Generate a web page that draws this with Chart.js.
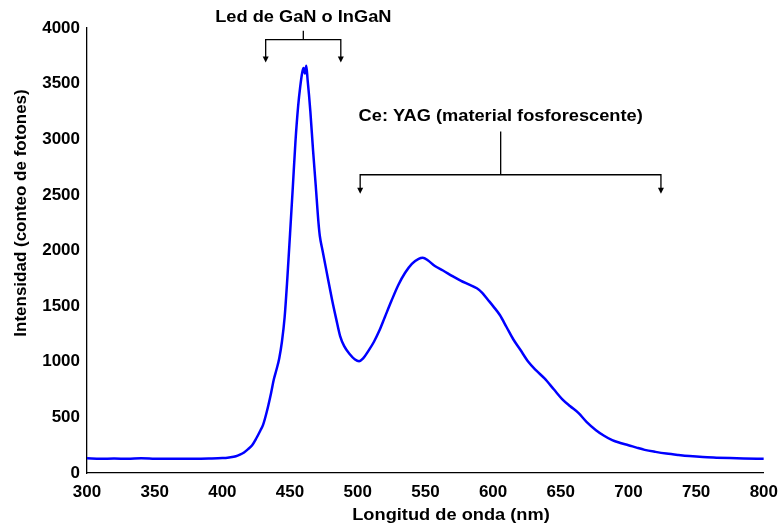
<!DOCTYPE html>
<html>
<head>
<meta charset="utf-8">
<script src="https://cdn.jsdelivr.net/npm/chart.js@4"></script>
<style>
  html, body { margin: 0; padding: 0; background: #fff; }
  #wrap { width: 782px; height: 529px; }
</style>
</head>
<body>
<div id="wrap"><canvas id="myChart" width="782" height="529"></canvas></div>
<script>
// longitud de onda (nm) y cuentas
var wavelengths = [300,310,320,330,340,350,360,370,380,390,400,405,410,413,416,419,422,425,428,430,
  433,436,438,440,442,444,446,448,450,452,454,456,457.5,459,460,461,462,463,464,465,467,469,471,472,474,477,
  481,484,487,490,494,498,501,504,508,512,516,520,525,530,535,540,545,548,552,557,563,570,576,582,588,592,
  596,600,605,610,615,620,626,632,638,645,651,657,663,669,676,682,688,694,700,706,712,720,728,737,745,755,
  765,775,785,800];
var counts = [132,128,130,127,133,129,127,129,128,130,134,140,150,165,185,215,250,310,380,430,
  560,720,840,930,1030,1180,1400,1750,2150,2560,2980,3300,3470,3600,3640,3590,3660,3530,3400,3250,2900,2580,2250,2130,2000,1810,
  1560,1390,1230,1140,1070,1020,1005,1030,1100,1180,1280,1400,1550,1690,1800,1880,1925,1935,1910,1860,1820,1770,1730,1695,1660,1620,
  1560,1500,1420,1310,1200,1110,1000,920,850,750,665,600,540,460,385,335,295,270,250,228,208,190,175,162,152,143,
  138,134,131,128];
var xTicks = [300,350,400,450,500,550,600,650,700,750,800];
var yTicks = [0,500,1000,1500,2000,2500,3000,3500,4000];

var points = wavelengths.map(function (w, i) { return {x: w, y: counts[i]}; });

var fam = '"Liberation Sans", Arial, sans-serif';

// corchetes con flechas (en unidades del grafico)
var brackets = [
  {label: 'Led de GaN o InGaN', x1: 432, x2: 487.5, xm: 459.8, yBar: 3895, yTip: 3690, yStem: 3975, yText: 4090},
  {label: 'Ce: YAG (material fosforescente)', x1: 501.8, x2: 724, xm: 605.6, yBar: 2681, yTip: 2510, yStem: 3070, yText: 3205}
];

function stretchedText(c, txt, x, y, sx) {
  c.save();
  c.translate(x, y);
  c.scale(sx, 1);
  c.fillText(txt, 0, 0);
  c.restore();
}

var bracketPlugin = {
  id: 'brackets',
  afterDraw: function (chart) {
    var c = chart.ctx;
    var xs = chart.scales.x, ys = chart.scales.y;
    c.save();
    c.strokeStyle = '#000';
    c.fillStyle = '#000';
    c.lineWidth = 1.3;
    c.textAlign = 'center';
    c.textBaseline = 'middle';
    brackets.forEach(function (b) {
      var l = xs.getPixelForValue(b.x1), r = xs.getPixelForValue(b.x2), m = xs.getPixelForValue(b.xm);
      var yb = ys.getPixelForValue(b.yBar), yt = ys.getPixelForValue(b.yTip), yst = ys.getPixelForValue(b.yStem);
      c.beginPath();
      c.moveTo(l, yt - 5); c.lineTo(l, yb); c.lineTo(r, yb); c.lineTo(r, yt - 5);
      c.moveTo(m, yb); c.lineTo(m, yst);
      c.stroke();
      [l, r].forEach(function (px) {
        c.beginPath();
        c.moveTo(px - 3, yt - 6); c.lineTo(px + 3, yt - 6); c.lineTo(px, yt); c.closePath();
        c.fill();
      });
      c.font = 'bold 16px ' + fam;
      stretchedText(c, b.label, m, ys.getPixelForValue(b.yText), 1.14);
    });
    // titulos de ejes
    c.font = 'bold 16px ' + fam;
    stretchedText(c, 'Longitud de onda (nm)', 451, 516, 1.14);
    c.save();
    c.translate(21, 213);
    c.rotate(-Math.PI / 2);
    c.font = 'bold 17px ' + fam;
    c.fillText('Intensidad (conteo de fotones)', 0, 0);
    c.restore();
    c.restore();
  }
};

var ctx = document.getElementById('myChart').getContext('2d');
var myChart = new Chart(ctx, {
  type: 'line',
  data: {
    datasets: [{
      data: points,
      borderColor: '#0000ff',
      borderWidth: 2.5,
      pointRadius: 0,
      cubicInterpolationMode: 'monotone',
      fill: false
    }]
  },
  options: {
    responsive: false,
    animation: false,
    layout: {padding: {top: 28, right: 17, left: 0, bottom: 0}},
    plugins: {legend: {display: false}, tooltip: {enabled: false}},
    scales: {
      x: {
        type: 'linear',
        min: 300, max: 800,
        afterFit: function (s) { s.height = 56; },
        afterBuildTicks: function (s) { s.ticks = xTicks.map(function (v) { return {value: v}; }); },
        grid: {display: false, drawOnChartArea: false, drawTicks: true, tickLength: 5, tickColor: '#000', tickWidth: 1.3},
        border: {display: true, color: '#000', width: 1.3},
        ticks: {
          color: '#000', font: {family: fam, size: 17, weight: 'bold'}, padding: 4, maxRotation: 0,
          callback: function (v) { return String(v); }
        }
      },
      y: {
        min: 0, max: 4000,
        afterFit: function (s) { s.width = 87; },
        afterBuildTicks: function (s) { s.ticks = yTicks.map(function (v) { return {value: v}; }); },
        grid: {display: false, drawOnChartArea: false, drawTicks: true, tickLength: 5, tickColor: '#000', tickWidth: 1.3},
        border: {display: true, color: '#000', width: 1.3},
        ticks: {
          color: '#000', font: {family: fam, size: 17, weight: 'bold'}, padding: 2,
          callback: function (v) { return String(v); }
        }
      }
    }
  },
  plugins: [bracketPlugin]
});
</script>
</body>
</html>
